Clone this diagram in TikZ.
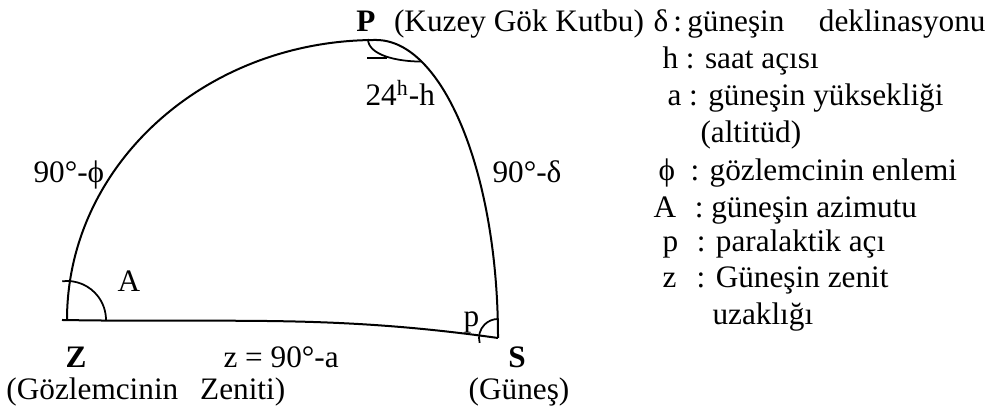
\documentclass[tikz,border=0pt]{standalone}
\usepackage{fontspec}
\setmainfont{Liberation Serif}
\usetikzlibrary{positioning, calc}

\begin{document}
\begin{tikzpicture}[
    x=0.4pt, y=0.4pt,
    % Styles
    every node/.style={
        font=\fontsize{12.5}{14}\selectfont, inner sep=0pt
    },
    txt/.style={anchor=base west},
    vertex/.style={
        anchor=base, font=\fontsize{12.5}{14}\selectfont\bfseries
    },
    side/.style={line width=0.8pt},
    anglemark/.style={line width=0.7pt}
]
\useasboundingbox (0,0) rectangle (991,417);

% ── Vertices of the triangle ────────────────────────────────────────────────
\coordinate (Z) at (67,97);
\coordinate (P) at (376,377);
\coordinate (S) at (498,79);

% ── Sides ───────────────────────────────────────────────────────────────────
\draw[side] (Z) .. controls +(0,155) and +(-171,0) .. (P);
\draw[side] (P) .. controls +(67,0) and +(0,165) .. (S) coordinate[pos=0.24] (Pr);
\draw[side] ([xshift=-2pt]Z) to[out=-1, in=172] (S);

% ── Angle marks ─────────────────────────────────────────────────────────────
\draw[anglemark] ($(Z)+(97:39)$) arc[start angle=97, end angle=0, radius=39];
\draw[anglemark] ($(S)+(195:19)$) arc[start angle=195, end angle=90, radius=19];
\draw[anglemark] ($(P)+(-8,1)$) .. controls +(0,-16) and +(-25,0) .. (Pr);
\draw[anglemark] ($(P)+(-9,-18)$) -- ++(20,0);

% ── Vertex labels ───────────────────────────────────────────────────────────
\node[vertex] (pname) at (366,385) {P};
\node[txt, base right=7pt of pname] (pnote) {(Kuzey Gök Kutbu)};
\node[vertex] (zname) at (76,49) {Z};
\node[txt] (znote) at (6,17) {(Gözlemcinin\hspace{0.7em}Zeniti)};
\node[vertex] (sname) at (517,49) {S};
\node[anchor=base] (snote) at (519,17) {(Güneş)};

% ── Side and angle labels ───────────────────────────────────────────────────
\node[txt] (zpside) at (33,234) {90°-ϕ};
\node[txt] (psside) at (492,234) {90°-δ};
\node[txt] (zsside) at (223,49) {z = 90°-a};
\node[txt] (angP) at (365,311) {24\textsuperscript{h}-h};
\node[txt] (angZ) at (117,125) {A};
\node[txt] (angS) at (463,90) {p};

% ── Legend ──────────────────────────────────────────────────────────────────
\node[txt] (legd) at (653,385) {δ\,:\,güneşin\hspace{1.1em}deklinasyonu};
\node[txt] (legh) at (662,348) {h : saat açısı};
\node[txt] (lega) at (667,311) {a : güneşin yüksekliği};
\node[txt] (legalt) at (700,274) {(altitüd)};
\node[txt] (legphi) at (658,236) {ϕ\hspace{0.5em}: gözlemcinin enlemi};
\node[txt] (legA) at (653,199) {A\hspace{0.6em}: güneşin azimutu};
\node[txt] (legp) at (662,165) {p\hspace{0.6em}: paralaktik açı};
\node[txt] (legz) at (662,129) {z\hspace{0.65em}: Güneşin zenit};
\node[txt] (leguz) at (712,92) {uzaklığı};

\end{tikzpicture}
\end{document}
